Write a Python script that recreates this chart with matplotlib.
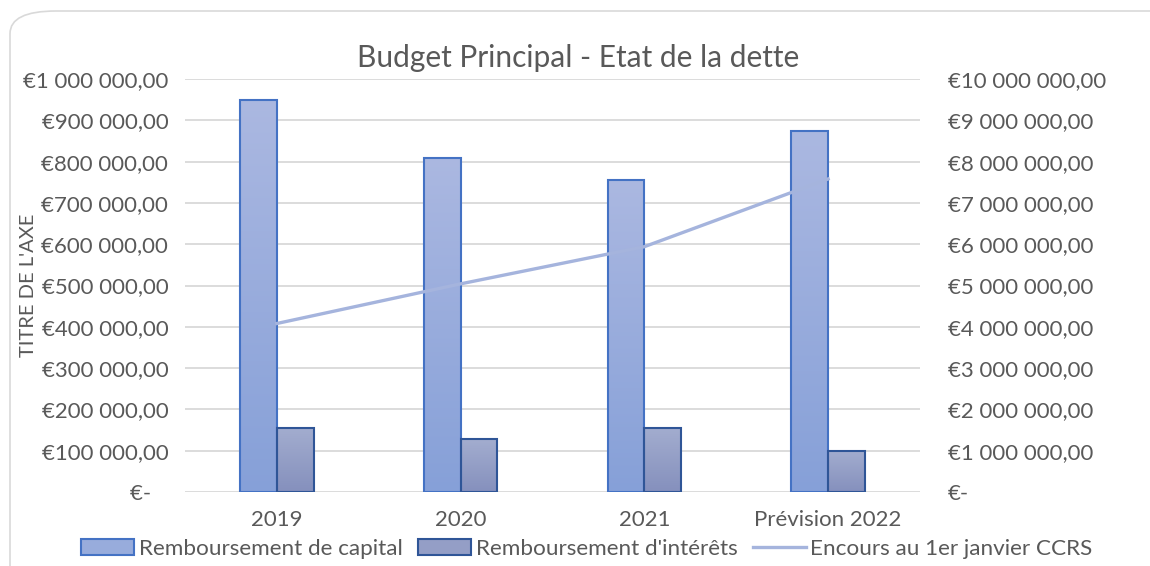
import numpy as np
import matplotlib
matplotlib.use('Agg')
from matplotlib import pyplot as plt
from matplotlib.patches import FancyBboxPatch, Patch
from matplotlib.lines import Line2D
from matplotlib.ticker import FuncFormatter, MultipleLocator

# data
categories = ['2019', '2020', '2021', 'Prévision 2022']
capital = [948000, 809000, 755000, 875000]
interets = [155000, 128000, 155000, 100000]
encours = [4080000, 5040000, 5940000, 7580000]

plt.rcParams['font.family'] = ['Lato', 'DejaVu Sans']
grey = '#595959'

def fmt_eur(v, pos=None):
    if abs(v) < 0.5:
        return '€-   '
    s = '{:,.2f}'.format(v).replace(',', ' ').replace('.', ',')
    return '€' + s

def fmt_eur_r(v, pos=None):
    if abs(v) < 0.5:
        return '€-'
    return fmt_eur(v)

def gradient_bars(ax, bars, top_col, bot_col):
    c1 = np.array(matplotlib.colors.to_rgb(top_col))
    c2 = np.array(matplotlib.colors.to_rgb(bot_col))
    g = np.linspace(0, 1, 256)[:, None]
    img = (c1[None, :] * (1 - g) + c2[None, :] * g)[:, None, :]
    for b in bars:
        x0, y0 = b.get_x(), b.get_y()
        w, h = b.get_width(), b.get_height()
        im = ax.imshow(img, extent=[x0, x0 + w, y0, y0 + h], origin='upper',
                       aspect='auto', zorder=b.get_zorder() - 0.1)
        im.set_clip_path(b)
        b.set_facecolor('none')

fig = plt.figure(figsize=(11.5, 5.66), dpi=100)
frame = FancyBboxPatch((10 / 1150, -0.05), 1.2, 1 - 11 / 566 + 0.05,
                       boxstyle='round,pad=0,rounding_size=0.04',
                       transform=fig.transFigure, fc='white', ec='#d9d9d9', lw=1.2,
                       zorder=-5)
fig.patches.append(frame)

ax = fig.add_axes([185 / 1150, 1 - 492 / 566, 735 / 1150, 413 / 566])
ax.set_facecolor('none')
x = np.arange(len(categories))
w = 0.2
b1 = ax.bar(x - w / 2, capital, w, edgecolor='#4472c4', linewidth=1.5, zorder=3)
b2 = ax.bar(x + w / 2, interets, w, edgecolor='#2f5597', linewidth=1.5, zorder=3)
gradient_bars(ax, b1, '#abb8e1', '#86a0d8')
gradient_bars(ax, b2, '#a3adcf', '#8590bd')

ax.set_xlim(-0.5, len(categories) - 0.5)
ax.set_ylim(0, 1000000)
ax.yaxis.set_major_locator(MultipleLocator(100000))
ax.yaxis.set_major_formatter(FuncFormatter(fmt_eur))
ax.set_xticks(x)
ax.set_xticklabels(categories)
ax.grid(axis='y', color='#d9d9d9', linewidth=1.3, zorder=0)
ax.set_axisbelow(True)
for s in ax.spines.values():
    s.set_visible(False)
ax.tick_params(axis='both', length=0, colors=grey, labelsize=16)
ax.tick_params(axis='y', pad=12)
ax.tick_params(axis='x', pad=13)

ax2 = ax.twinx()
ax2.set_ylim(0, 10000000)
ax2.yaxis.set_major_locator(MultipleLocator(1000000))
ax2.yaxis.set_major_formatter(FuncFormatter(fmt_eur_r))
for s in ax2.spines.values():
    s.set_visible(False)
ax2.tick_params(axis='y', length=0, colors=grey, labelsize=16, pad=20)
ax2.plot(x, encours, color='#a5b4dd', linewidth=2.4, zorder=5)

fig.text(29 / 1150, 1 - 285 / 566, "TITRE DE L'AXE", rotation=90, ha='center',
         va='center', color=grey, fontsize=14.5)
fig.text(578 / 1150, 1 - 58 / 566, 'Budget Principal - Etat de la dette',
         ha='center', va='center', color=grey, fontsize=21.5)

handles = [Patch(facecolor='#98acdc', edgecolor='#4472c4', linewidth=1.5),
           Patch(facecolor='#949ec6', edgecolor='#2f5597', linewidth=1.5),
           Line2D([0], [0], color='#a5b4dd', linewidth=2.4)]
labels = ['Remboursement de capital', "Remboursement d'intérêts",
          'Encours au 1er janvier CCRS']
leg = fig.legend(handles, labels, loc='center', bbox_to_anchor=(587 / 1150, 1 - 549 / 566),
                 ncol=3, frameon=False, fontsize=16.2, handlelength=2.35, handleheight=0.7,
                 handletextpad=0.2, columnspacing=0.7, labelcolor=grey)

fig.savefig('out.png', dpi=100)
